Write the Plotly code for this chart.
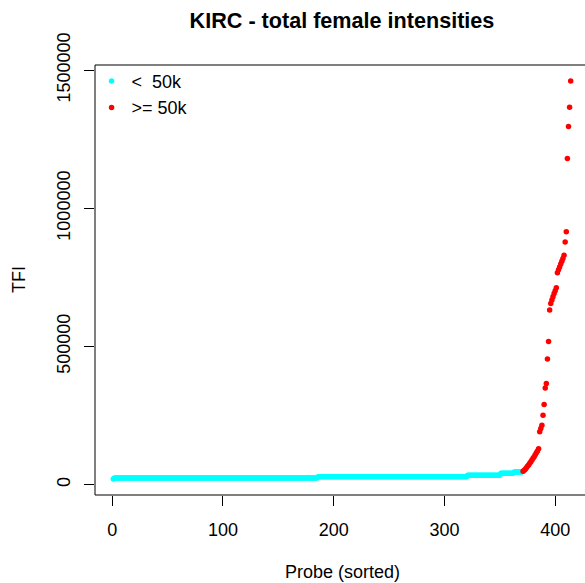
import plotly.graph_objects as go

# ---- data ----
cyan_levels = [20000, 24000, 28000, 34000, 41000, 46000]
cyan_counts = [1, 184, 135, 30, 12, 8]
red_values = [48000, 52000, 56000, 61000, 66000, 71000, 77000, 83000, 89000, 95000,
              101000, 108000, 115000, 122000, 130000,
              191000, 203000, 215000, 251000, 290000, 350000, 366000, 455000, 518000, 632000,
              655000, 668000, 680000, 692000, 702000, 712000,
              767000, 778000, 788000, 798000, 808000, 818000, 830000,
              878000, 915000, 1180000, 1296000, 1366000, 1461000]
x_ticks = [0, 100, 200, 300, 400]
y_ticks = [0, 500000, 1000000, 1500000]
y_tick_labels = ["0", "500000", "1000000", "1500000"]
legend_labels = ["<  50k", ">= 50k"]
title_text = "KIRC - total female intensities"
x_title = "Probe (sorted)"
y_title = "TFI"

cyan_values = []
for lv, c in zip(cyan_levels, cyan_counts):
    cyan_values += [lv] * c
n_cyan = len(cyan_values)
n = n_cyan + len(red_values)
cyan_x = list(range(1, n_cyan + 1))
red_x = list(range(n_cyan + 1, n + 1))

allv = cyan_values + red_values
ymin, ymax = min(allv), max(allv)
pad = 0.04 * (ymax - ymin)
xpad = 0.04 * (n - 1)
x0, x1 = 1 - xpad, n + xpad
# right part of the plot region is cut off by the window
W, H = 585, 583
ml, mt, mb = 95, 65, 88
r_plot_w = 494.0
vis = (W - ml) / r_plot_w
xr = [x0, x0 + (x1 - x0) * vis]

FONT = "Liberation Sans, Arial, sans-serif"

fig = go.Figure()
fig.add_trace(go.Scatter(x=cyan_x, y=cyan_values, mode="markers", name=legend_labels[0],
                         marker=dict(color="#00FFFF", size=5.5, line=dict(width=0))))
fig.add_trace(go.Scatter(x=red_x, y=red_values, mode="markers", name=legend_labels[1],
                         marker=dict(color="#FF0000", size=5.5, line=dict(width=0))))

px_center = (ml + ml + r_plot_w) / 2.0
fig.update_layout(
    width=W, height=H,
    margin=dict(l=ml, r=0, t=mt, b=mb, pad=0),
    paper_bgcolor="white", plot_bgcolor="white",
    font=dict(family=FONT, size=18, color="black"),
    title=dict(text="<b>" + title_text + "</b>", font=dict(size=21.6, color="black"),
               x=px_center / W, xref="container", xanchor="center",
               y=1 - 20 / H, yanchor="middle"),
    showlegend=True,
    legend=dict(x=-0.007, y=1.005, xanchor="left", yanchor="top", xref="paper", yref="paper",
                bgcolor="rgba(0,0,0,0)", font=dict(size=18), itemwidth=30,
                tracegroupgap=0),
    xaxis=dict(range=xr, tickmode="array", tickvals=x_ticks, ticks="outside", ticklen=10,
               tickcolor="black", tickwidth=1, showgrid=False, zeroline=False, showline=False,
               tickfont=dict(size=18), ticklabelstandoff=8),
    yaxis=dict(range=[ymin - pad, ymax + pad], tickmode="array", tickvals=y_ticks,
               ticktext=y_tick_labels,
               ticks="outside", ticklen=10, tickcolor="black", tickwidth=1, showgrid=False,
               zeroline=False, showline=False, tickangle=-90, tickfont=dict(size=18),
               ticklabelstandoff=7),
)
fig.add_shape(type="rect", xref="paper", yref="paper", x0=0, x1=1.05, y0=0, y1=1,
              line=dict(color="black", width=1), fillcolor="rgba(0,0,0,0)", layer="above")
fig.add_annotation(text=x_title, xref="paper", yref="paper",
                   x=(px_center - ml) / (W - ml), y=-(572 - (H - mb)) / (H - mt - mb),
                   xanchor="center", yanchor="middle", showarrow=False, font=dict(size=18))
fig.add_annotation(text=y_title, xref="paper", yref="paper",
                   x=-(ml - 19) / (W - ml), y=0.5, textangle=-90,
                   xanchor="center", yanchor="middle", showarrow=False, font=dict(size=18))

fig.write_html("out.html")
